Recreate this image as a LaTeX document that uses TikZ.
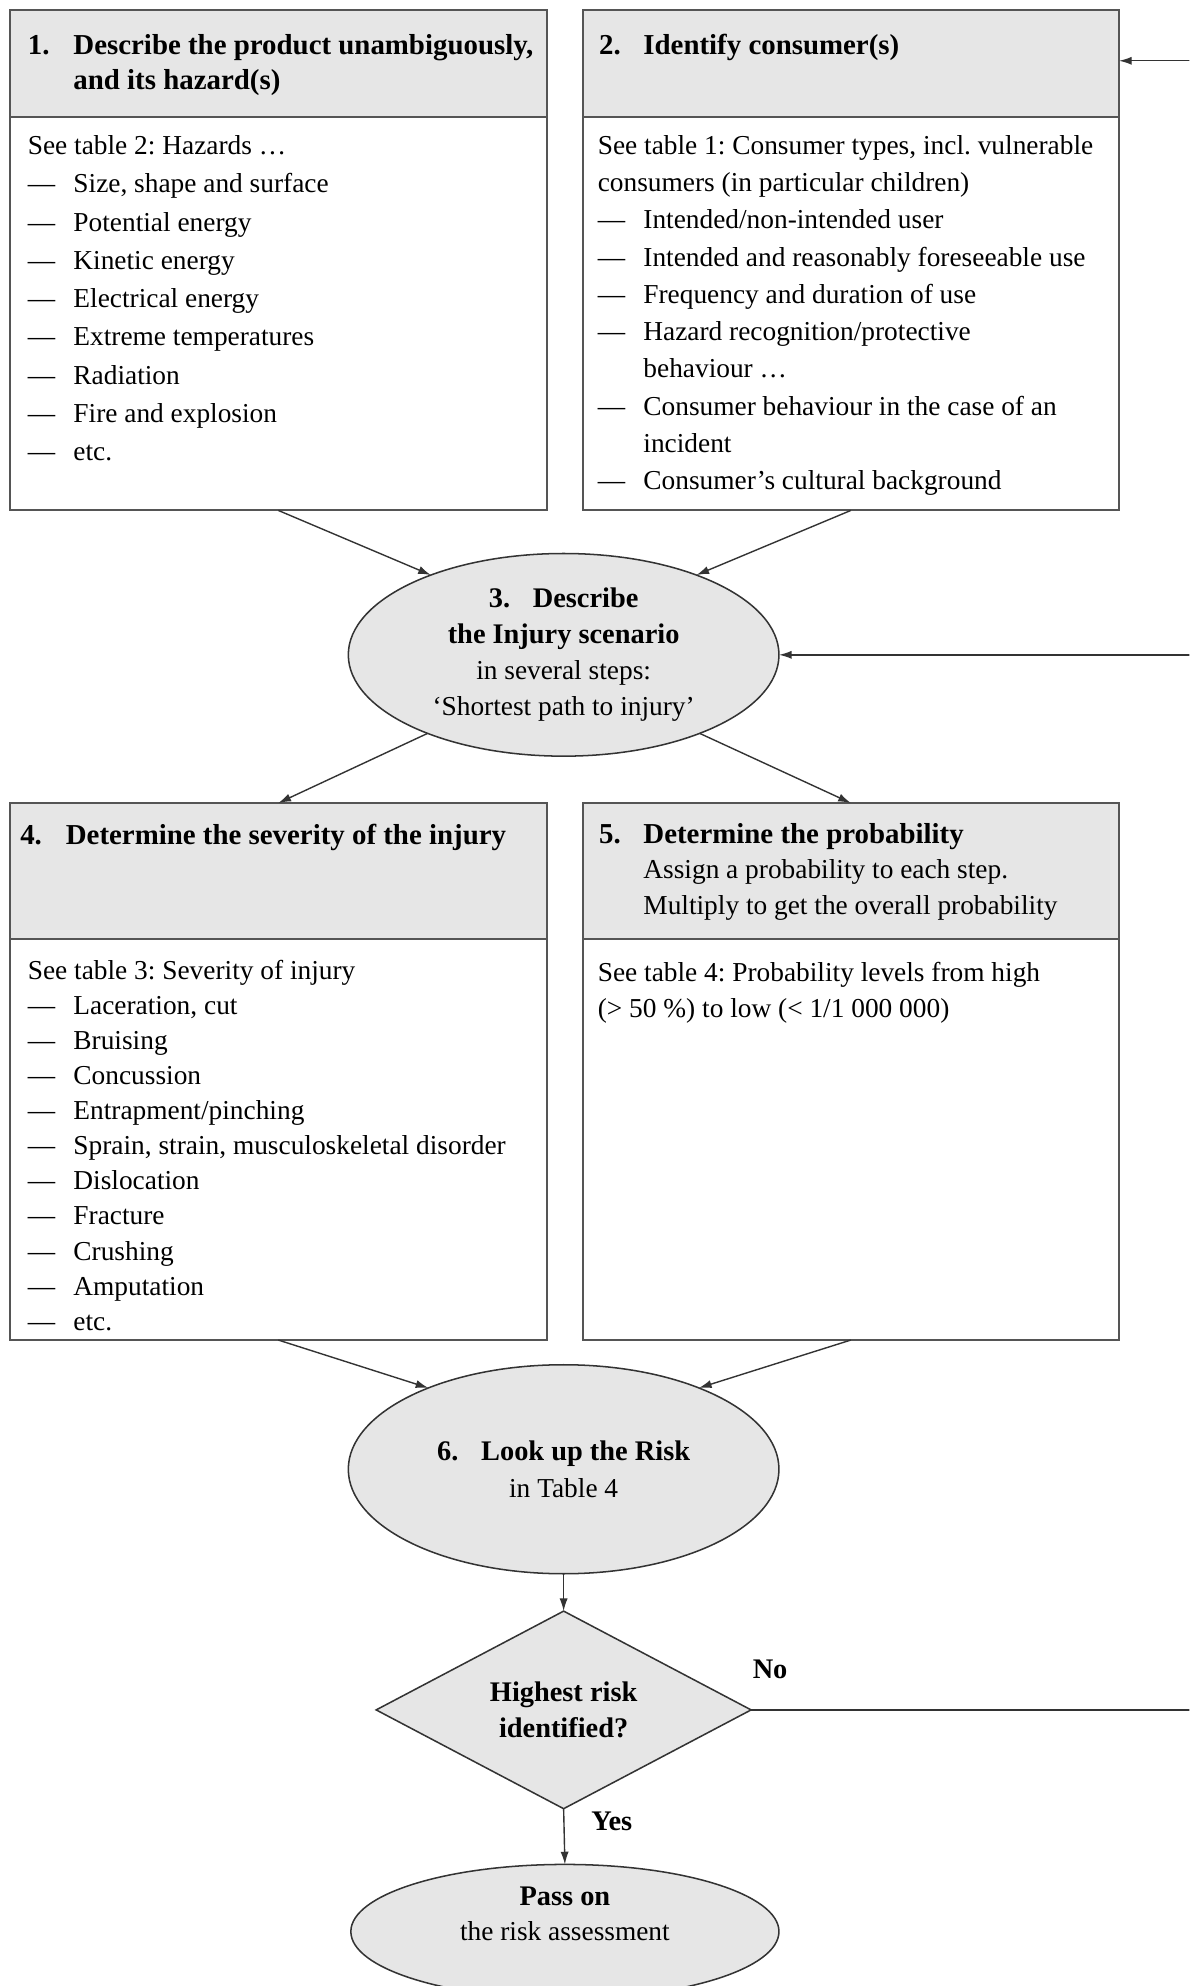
\documentclass[tikz,border=0pt]{standalone}
\usepackage{fontspec}
\setmainfont{Liberation Serif}
\usetikzlibrary{shapes.geometric,arrows.meta}
\definecolor{fillgray}{HTML}{E6E6E6}
\definecolor{edgegray}{HTML}{555555}
\definecolor{linegray}{HTML}{333333}
\newcommand{\dashitem}[1]{\makebox[18pt][l]{—}#1}
\newcommand{\contline}[1]{\hspace*{18pt}#1}
\frenchspacing
\begin{document}
\frenchspacing
\begin{tikzpicture}[x=0.5pt,y=-0.5pt,
  hdr/.style={draw=edgegray, line width=0.8pt, fill=fillgray, inner sep=0pt, outer sep=0pt,
    anchor=north west, minimum width=211.75pt},
  bodybox/.style={draw=edgegray, line width=0.8pt, fill=white, inner sep=0pt, outer sep=0pt,
    anchor=north west, minimum width=211.75pt},
  txt/.style={anchor=north west, inner sep=0pt, outer sep=0pt, align=left},
  hdrtxt/.style={txt, font=\fontsize{11.4}{14}\selectfont\bfseries},
  ell/.style={ellipse, draw=linegray, line width=0.6pt, fill=fillgray, inner sep=0pt, outer sep=0pt, align=center},
  conn/.style={draw=linegray, line width=0.55pt, -{Latex[length=5pt,width=3.2pt]}},
  plainline/.style={draw=linegray, line width=0.55pt},
  lbl/.style={inner sep=0pt, font=\fontsize{11.2}{13}\selectfont\bfseries}
]
\useasboundingbox (0,0) rectangle (939,1568);
\fill[white] (0,0) rectangle (939,1568);
\clip (0,0) rectangle (939,1568);

% boxes
\node[bodybox, minimum height=155.5pt] (b1) at (8,92) {};
\node[hdr, minimum height=42pt] (h1) at (8,8) {};
\node[bodybox, minimum height=155.5pt] (b2) at (460,92) {};
\node[hdr, minimum height=42pt] (h2) at (460,8) {};
\node[bodybox, minimum height=158.5pt] (b4) at (8,741) {};
\node[hdr, minimum height=53.5pt] (h4) at (8,634) {};
\node[bodybox, minimum height=158.5pt] (b5) at (460,741) {};
\node[hdr, minimum height=53.5pt] (h5) at (460,634) {};

% box texts
\node[hdrtxt] (t1h) at (22,27)
  {\makebox[18pt][l]{1.}Describe the product unambiguously,\\\hspace*{18pt}and its hazard(s)};
\node[txt, font=\fontsize{10.8}{15.1}\selectfont] (t1b) at (22,107)
  {See table 2: Hazards …\\
   \dashitem{Size, shape and surface}\\
   \dashitem{Potential energy}\\
   \dashitem{Kinetic energy}\\
   \dashitem{Electrical energy}\\
   \dashitem{Extreme temperatures}\\
   \dashitem{Radiation}\\
   \dashitem{Fire and explosion}\\
   \dashitem{etc.}};

\node[hdrtxt] (t2h) at (473,27)
  {\makebox[17.5pt][l]{2.}Identify consumer(s)};
\node[txt, font=\fontsize{10.8}{14.7}\selectfont] (t2b) at (472,107)
  {See table 1: Consumer types, incl. vulnerable\\
   consumers (in particular children)\\
   \dashitem{Intended/non-intended user}\\
   \dashitem{Intended and reasonably foreseeable use}\\
   \dashitem{Frequency and duration of use}\\
   \dashitem{Hazard recognition/protective}\\
   \contline{behaviour …}\\
   \dashitem{Consumer behaviour in the case of an}\\
   \contline{incident}\\
   \dashitem{Consumer’s cultural background}};

\node[hdrtxt] (t4h) at (16,651)
  {\makebox[18pt][l]{4.}Determine the severity of the injury};
\node[txt, font=\fontsize{10.8}{13.85}\selectfont] (t4b) at (22,758)
  {See table 3: Severity of injury\\
   \dashitem{Laceration, cut}\\
   \dashitem{Bruising}\\
   \dashitem{Concussion}\\
   \dashitem{Entrapment/pinching}\\
   \dashitem{Sprain, strain, musculoskeletal disorder}\\
   \dashitem{Dislocation}\\
   \dashitem{Fracture}\\
   \dashitem{Crushing}\\
   \dashitem{Amputation}\\
   \dashitem{etc.}};

\node[txt, font=\fontsize{10.8}{14}\selectfont] (t5h) at (473,650)
  {\makebox[17.5pt][l]{\fontsize{11.4}{14}\selectfont\bfseries 5.}{\fontsize{11.4}{14}\selectfont\bfseries Determine the probability}\\
   \hspace*{17.5pt}Assign a probability to each step.\\
   \hspace*{17.5pt}Multiply to get the overall probability};
\node[txt, font=\fontsize{10.8}{14}\selectfont] (t5b) at (472,760)
  {See table 4: Probability levels from high\\
   (> 50 \%) to low (< 1/1 000 000)};

% ellipses and decision
\node[ell, minimum width=170pt, minimum height=80pt, font=\fontsize{10.8}{14.2}\selectfont] (e3) at (445,517)
  {{\fontsize{11.2}{14.2}\selectfont\bfseries 3.\hspace{0.8em}Describe}\\{\fontsize{11.2}{14.2}\selectfont\bfseries the Injury scenario}\\in several steps:\\‘Shortest path to injury’};
\node[ell, minimum width=170pt, minimum height=82.5pt, font=\fontsize{10.8}{14.5}\selectfont] (e6) at (445,1160)
  {{\fontsize{11.2}{14.5}\selectfont\bfseries 6.\hspace{0.8em}Look up the Risk}\\in Table 4};
\node[diamond, aspect=1.9, draw=linegray, line width=0.6pt, fill=fillgray, inner sep=0pt, outer sep=0pt,
  minimum width=148pt, minimum height=78pt, align=center, font=\fontsize{11.2}{14}\selectfont\bfseries] (d) at (445,1350)
  {Highest risk\\identified?};
\node[ell, minimum width=169pt, minimum height=53pt] (e7) at (446,1525) {};
\node[inner sep=0pt, align=center, font=\fontsize{10.8}{13.5}\selectfont] (t7) at (446,1511)
  {{\fontsize{11.2}{13.5}\selectfont\bfseries Pass on}\\the risk assessment};

\node[lbl] (no) at (608,1318) {No};
\node[lbl] (yes) at (483,1438) {Yes};

% connectors
\coordinate (rA) at (945,48);
\coordinate (rB) at (945,517);
\coordinate (rC) at (945,1350);
\draw[conn] (rA) -- (rA -| h2.east);
\draw[conn] (rB) -- (e3.east);
\draw[conn] (b1.south) -- (e3.149);
\draw[conn] (b2.south) -- (e3.31);
\draw[conn] (e3.210) -- (h4.north);
\draw[conn] (e3.330) -- (h5.north);
\draw[conn] (b4.south) -- (e6.149);
\draw[conn] (b5.south) -- (e6.31);
\draw[conn] (e6.south) -- (d.north);
\draw[plainline] (d.east) -- (rC);
\draw[conn] (d.south) -- (e7.north);
\end{tikzpicture}
\end{document}
